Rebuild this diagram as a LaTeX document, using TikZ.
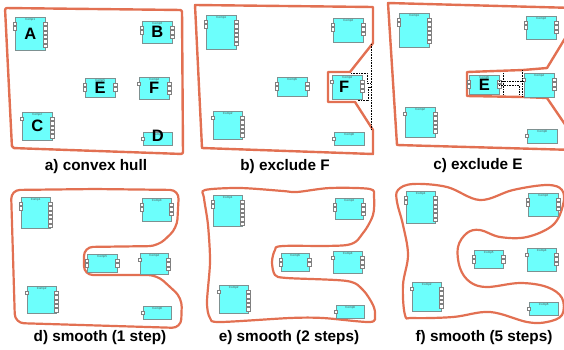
\documentclass[tikz,border=0pt]{standalone}
\usepackage{fontspec}
\setmainfont{Liberation Sans}
\definecolor{hullred}{RGB}{226,112,82}
\definecolor{compfill}{RGB}{108,255,252}
\definecolor{compedge}{RGB}{125,145,145}
\tikzset{
  compbox/.style={draw=compedge, fill=compfill, line width=0.5pt, inner sep=0pt, anchor=north west},
  port/.style={draw=gray, fill=white, line width=0.3pt},
  comptitle/.style={font=\fontsize{3}{3}\selectfont, text=black!70, inner sep=0pt, anchor=north},
  letter/.style={font=\fontsize{16.5}{16.5}\selectfont\bfseries, inner sep=0pt},
  hull/.style={draw=hullred, line width=2.4pt, line join=round},
  smoothhull/.style={draw=hullred, line width=2.2pt},
  gone/.style={densely dotted, line width=0.6pt},
  caption/.style={font=\fontsize{15.3}{15.3}\selectfont\bfseries, inner sep=0pt},
}
% component: name, x, y, width, height, number, left ports, right ports
\newcommand{\comp}[8]{%
  \node[compbox, minimum width=#4pt, minimum height=#5pt] (#1) at (#2,#3) {};
  \node[comptitle] (#1t) at ([yshift=-1pt]#1.north) {Comp#6};
  \foreach \i in {1,...,#7}
    \draw[port] ({#2-1.8},{#3+1+4.3*\i}) rectangle ++(3.4,3.2);
  \ifnum#8>0
    \foreach \i in {1,...,#8}
      \draw[port] ({#2+#4-1.6},{#3+1+4.3*\i}) rectangle ++(3.4,3.2);
  \fi
}
\begin{document}
\begin{tikzpicture}[x=1pt, y=-1pt]
\useasboundingbox (0,0) rectangle (564,349);

% a) convex hull
\draw[hull, rounded corners=2pt] (5,8) -- (182,10) -- (183,154) -- (12,148) -- cycle;
\comp{aA}{15}{17}{30}{33}{1}{2}{6}
\comp{aB}{142}{21}{30}{22}{3}{2}{3}
\comp{aE}{85}{78}{30}{19}{5}{2}{2}
\comp{aF}{139}{77}{30}{22}{4}{1}{3}
\comp{aC}{22}{112}{30}{28}{2}{1}{5}
\comp{aD}{143}{132}{29}{13}{6}{1}{0}
\node[letter] (aAl) at (aA.center) {A};
\node[letter] (aBl) at (aB.center) {B};
\node[letter] (aEl) at (aE.center) {E};
\node[letter] (aFl) at (aF.center) {F};
\node[letter] (aCl) at (aC.center) {C};
\node[letter] (aDl) at ([yshift=3pt]aD.center) {D};
\node[caption] (capa) at (96,167) {a) convex hull};

% b) exclude F
\draw[hull] (195,5) -- (373,7) -- (373,43) -- (350,72) -- (328,72) -- (328,102)
  -- (355,102) -- (373,130) -- (373,154) -- (202,148) -- cycle;
\comp{bA}{206}{15}{30}{34}{1}{2}{6}
\comp{bB}{333}{18}{30}{24}{3}{2}{3}
\comp{bE}{277}{77}{30}{19}{5}{2}{2}
\comp{bF}{332}{75}{30}{24}{4}{1}{3}
\comp{bC}{213}{111}{29}{28}{2}{1}{5}
\comp{bD}{334}{132}{30}{13}{6}{1}{0}
\node[letter] (bFl) at ([xshift=-3pt]bF.center) {F};
\draw[gone] (371,44) -- (371,129);
\draw[gone] (351,73) -- (367,73) -- (367,83) -- (371,83);
\draw[gone] (371,87) -- (368,87) -- (368,100) -- (357,100);
\node[caption] (capb) at (285,167) {b) exclude F};

% c) exclude E
\draw[hull] (388,3) -- (575,8) -- (575,22) -- (547,68) -- (523,70) -- (467,72) -- (467,96)
  -- (523,97) -- (547,98) -- (575,139) -- (575,150) -- (397,145) -- cycle;
\comp{cA}{399}{13}{30}{34}{1}{2}{6}
\comp{cB}{526}{16}{30}{23}{3}{2}{3}
\comp{cE}{469}{75}{30}{19}{5}{2}{2}
\comp{cF}{524}{73}{30}{24}{4}{1}{3}
\comp{cC}{405}{107}{30}{30}{2}{1}{5}
\comp{cD}{527}{129}{30}{14}{6}{1}{0}
\node[letter] (cEl) at (cE.center) {E};
\draw[gone] (503,73) -- (503,95);
\draw[gone] (522,70) -- (522,96);
\draw[gone] (499,81) -- (524,81);
\draw[gone] (499,85) -- (519,85) -- (519,95);
\node[caption] (capc) at (478,166) {c) exclude E};

% d) smooth (1 step)
\draw[smoothhull, rounded corners=9pt] (95,189) -- (179,190) -- (177,228) -- (158,246)
  -- (84,247) -- (84,275) -- (157,275) -- (182,298) -- (181,328) -- (15,323) -- (11,190) -- cycle;
\comp{dA}{21}{197}{29}{31}{1}{2}{6}
\comp{dB}{142}{198}{29}{23}{3}{2}{3}
\comp{dE}{87}{254}{30}{18}{5}{2}{2}
\comp{dF}{140}{253}{28}{21}{4}{1}{3}
\comp{dC}{27}{286}{29}{27}{2}{1}{5}
\comp{dD}{143}{306}{28}{13}{6}{1}{0}
\node[caption] (capd) at (100,338) {d) smooth (1 step)};

% e) smooth (2 steps)
\draw[smoothhull] plot[smooth cycle, tension=0.5] coordinates {
  (205,190) (240,188) (283,191) (297,192) (330,188) (370,189) (374,197) (373,215)
  (363,233) (347,245) (283,246) (275,250) (272,262) (275,275) (287,278) (347,281)
  (363,290) (373,305) (375,315) (370,322) (323,318) (290,318) (220,322) (210,318)
  (207,302) (210,262) (208,225) (204,198)};
\comp{eA}{213}{195}{29}{31}{1}{2}{6}
\comp{eB}{335}{198}{28}{21}{3}{2}{3}
\comp{eE}{281}{253}{28}{18}{5}{2}{2}
\comp{eF}{333}{251}{29}{22}{4}{1}{3}
\comp{eC}{219}{285}{29}{28}{2}{1}{5}
\comp{eD}{336}{305}{28}{13}{6}{1}{0}
\node[caption] (cape) at (289,338) {e) smooth (2 steps)};

% f) smooth (5 steps)
\draw[smoothhull] plot[smooth cycle, tension=0.6] coordinates {
  (398,190) (413,184) (447,187) (480,200) (513,190) (547,185) (562,190) (563,205)
  (553,225) (527,237) (500,237) (480,230) (467,233) (458,247) (460,268) (470,282)
  (487,287) (520,283) (547,287) (562,298) (562,315) (547,322) (527,322) (490,312)
  (453,317) (413,318) (405,315) (403,285) (408,255) (403,225) (397,202)};
\comp{fA}{406}{191}{29}{32}{1}{2}{6}
\comp{fB}{528}{193}{30}{23}{3}{2}{3}
\comp{fE}{474}{250}{29}{18}{5}{2}{2}
\comp{fF}{527}{248}{29}{23}{4}{1}{3}
\comp{fC}{412}{282}{29}{29}{2}{1}{5}
\comp{fD}{529}{302}{29}{13}{6}{1}{0}
\node[caption] (capf) at (484,338) {f) smooth (5 steps)};

\end{tikzpicture}
\end{document}
